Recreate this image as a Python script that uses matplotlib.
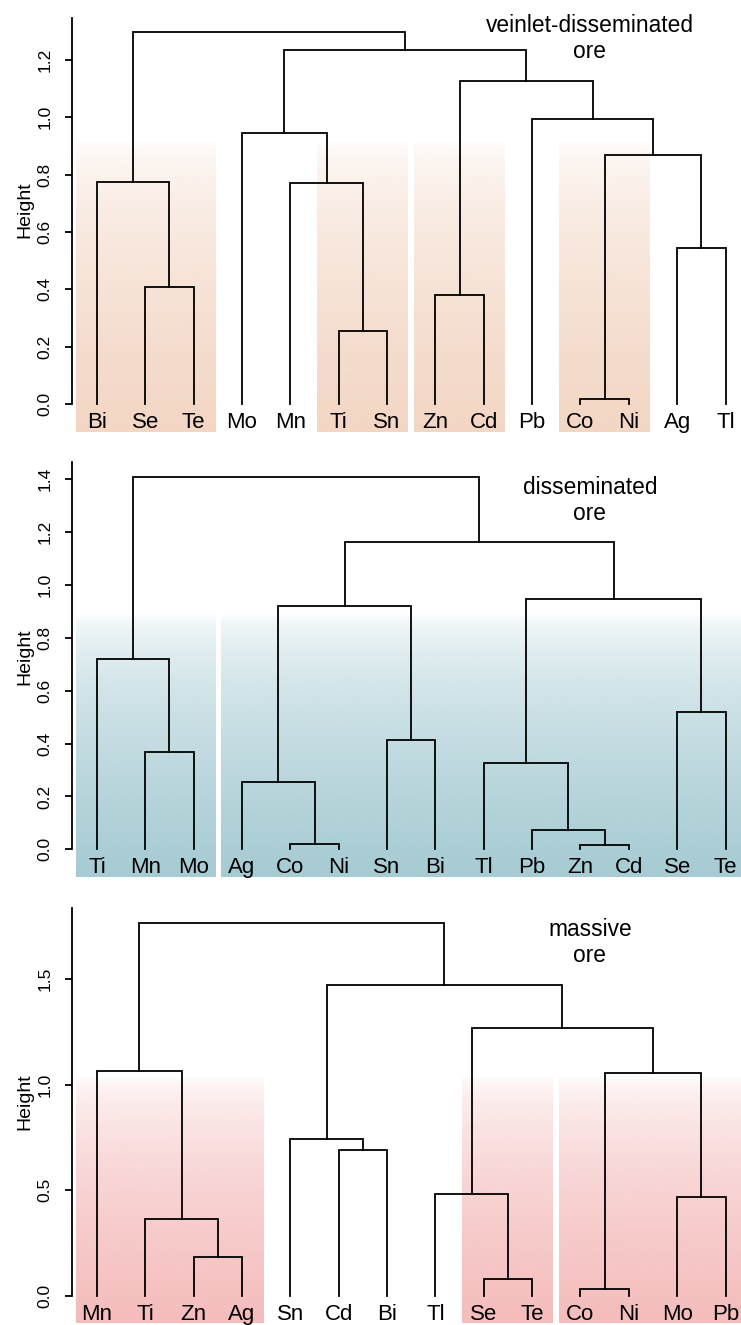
import numpy as np
import matplotlib
matplotlib.use("Agg")
import matplotlib.pyplot as plt
from matplotlib.colors import to_rgb

plt.rcParams['font.family'] = ['Liberation Sans', 'DejaVu Sans']

# veinlet-disseminated ore
leaves_vd = ["Bi", "Se", "Te", "Mo", "Mn", "Ti", "Sn", "Zn", "Cd", "Pb", "Co", "Ni", "Ag", "Tl"]
# merge table like R's hclust: negative = leaf (1-based), positive = earlier merge
left_vd = [-11, -6, -8, -2, -13, -5, -1, 1, -4, -10, 3, 9, 7]
right_vd = [-12, -7, -9, -3, -14, 2, 4, 5, 6, 8, 10, 11, 12]
height_vd = [0.016, 0.254, 0.380, 0.409, 0.543, 0.770, 0.773, 0.868, 0.944, 0.993, 1.125, 1.235, 1.296]
groups_vd = [("Bi", "Te"), ("Ti", "Sn"), ("Zn", "Cd"), ("Co", "Ni")]
ticks_vd = [0.0, 0.2, 0.4, 0.6, 0.8, 1.0, 1.2]

# disseminated ore
leaves_d = ["Ti", "Mn", "Mo", "Ag", "Co", "Ni", "Sn", "Bi", "Tl", "Pb", "Zn", "Cd", "Se", "Te"]
left_d = [-11, -5, -10, -4, -9, -2, -7, -13, -1, 4, 5, 10, 9]
right_d = [-12, -6, 1, 2, 3, -3, -8, -14, 6, 7, 8, 11, 12]
height_d = [0.016, 0.019, 0.073, 0.255, 0.328, 0.367, 0.413, 0.519, 0.720, 0.920, 0.947, 1.161, 1.407]
groups_d = [("Ti", "Mo"), ("Ag", None)]
ticks_d = [0.0, 0.2, 0.4, 0.6, 0.8, 1.0, 1.2, 1.4]

# massive ore
leaves_m = ["Mn", "Ti", "Zn", "Ag", "Sn", "Cd", "Bi", "Tl", "Se", "Te", "Co", "Ni", "Mo", "Pb"]
left_m = [-11, -9, -3, -2, -13, -8, -6, -5, 1, -1, 6, 8, 10]
right_m = [-12, -10, -4, 3, -14, 2, -7, 7, 5, 4, 9, 11, 12]
height_m = [0.032, 0.080, 0.186, 0.366, 0.467, 0.483, 0.689, 0.745, 1.057, 1.063, 1.270, 1.472, 1.764]
groups_m = [("Mn", "Ag"), ("Se", "Te"), ("Co", None)]
ticks_m = [0.0, 0.5, 1.0, 1.5]

W, H = 741, 1325
AX_LEFT = 72.3
X_LO, X_HI = 0.49, 14.32


def draw_dendro(ax, leaves, left, right, heights):
    pos = {}
    hgt = {}
    for i in range(len(leaves)):
        pos[-(i + 1)] = i + 1
        hgt[-(i + 1)] = 0.0
    for k, (a, b, h) in enumerate(zip(left, right, heights)):
        xa, xb = pos[a], pos[b]
        ax.plot([xa, xa, xb, xb], [hgt[a], h, h, hgt[b]], color="black", lw=1.3,
                solid_joinstyle="miter", zorder=3)
        pos[k + 1] = (xa + xb) / 2
        hgt[k + 1] = h


def shade(ax, leaves, groups, color, y0, y1):
    rgb = to_rgb(color)
    n = 256
    t = np.linspace(0, 1, n)[:, None]  # 0 = bottom, 1 = top
    img = np.zeros((n, 1, 4))
    img[..., 0], img[..., 1], img[..., 2] = rgb
    img[..., 3] = (1 - t) ** 0.55
    for a, b in groups:
        x0 = leaves.index(a) + 1 - 0.44
        x1 = X_HI if b is None else leaves.index(b) + 1 + 0.44
        ax.imshow(img, extent=[x0, x1, y0, y1], origin="lower", aspect="auto",
                  interpolation="bilinear", zorder=0)


def panel(leaves, left, right, heights, groups, ticks, color, title,
          bot, top, zero, ppu, spine_top, box_top, box_bot, title_y, ylab_y):
    ax = fig.add_axes([AX_LEFT / W, 1 - bot / H, (W - AX_LEFT) / W, (bot - top) / H])
    shade(ax, leaves, groups, color, box_bot, box_top)
    draw_dendro(ax, leaves, left, right, heights)
    for i, name in enumerate(leaves):
        ax.annotate(name, (i + 1, 0), xytext=(0, -17), textcoords="offset points",
                    ha="center", va="baseline", fontsize=16, annotation_clip=False)
    ax.set_xlim(X_LO, X_HI)
    ax.set_ylim(-(bot - zero) / ppu, (zero - top) / ppu)
    for s in ["top", "right", "bottom"]:
        ax.spines[s].set_visible(False)
    ax.spines["left"].set_bounds(0, spine_top)
    ax.spines["left"].set_linewidth(1.3)
    ax.set_xticks([])
    ax.set_yticks(ticks)
    ax.set_yticklabels([f"{v:.1f}" for v in ticks])
    ax.tick_params(axis="y", length=5, width=1.3, labelsize=12.5, pad=9, labelrotation=90)
    for lab in ax.get_yticklabels():
        lab.set_va("center")
    ax.patch.set_alpha(0)
    fig.text(590 / W, 1 - title_y / H, title, ha="center", va="center",
             fontsize=16.4, linespacing=1.15)
    fig.text(25 / W, 1 - ylab_y / H, "Height", rotation=90, ha="center", va="center",
             fontsize=14)


fig = plt.figure(figsize=(W / 100, H / 100), dpi=100)

panel(leaves_vd, left_vd, right_vd, height_vd, groups_vd, ticks_vd, "#F3D6C4",
      "veinlet-disseminated\nore", bot=440, top=5, zero=404, ppu=286.7,
      spine_top=1.346, box_top=0.92, box_bot=-0.098, title_y=38.5, ylab_y=210)
panel(leaves_d, left_d, right_d, height_d, groups_d, ticks_d, "#A6CBD3",
      "disseminated\nore", bot=880, top=445, zero=849.3, ppu=264.3,
      spine_top=1.467, box_top=0.89, box_bot=-0.104, title_y=500.3, ylab_y=656.7)
panel(leaves_m, left_m, right_m, height_m, groups_m, ticks_m, "#F5BCBC",
      "massive\nore", bot=1325, top=885, zero=1296, ppu=211.3,
      spine_top=1.835, box_top=1.04, box_bot=-0.128, title_y=942.7, ylab_y=1101.7)

fig.savefig("out.png", dpi=100)
